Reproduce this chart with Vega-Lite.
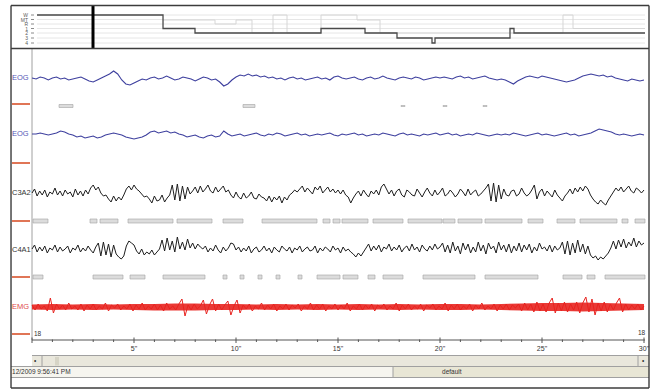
{
"$schema":"https://vega.github.io/schema/vega-lite/v6.json",
"width":651,"height":389,
"autosize":{"type":"fit","contains":"padding"},
"padding":0,
"background":"white",
"view":{"stroke":null},
"config":{"text":{"font":"Liberation Sans"}},
"datasets":{
"bands":[
{"t":0,"t2":30.245,"y":356,"y2":366.5,"part":"scroll"},
{"t":-1.029,"t2":17.696,"y":366.5,"y2":377.5,"part":"statusL"},
{"t":17.696,"t2":30.245,"y":366.5,"y2":377.5,"part":"statusR"},
{"t":1.127,"t2":1.324,"y":357,"y2":365.5,"part":"thumb"}
],
"frame":[
{"t":-1.029,"t2":30.245,"y":5.5,"y2":5.5},
{"t":-1.029,"t2":-1.029,"y":5.5,"y2":388},
{"t":30.245,"t2":30.245,"y":5.5,"y2":388},
{"t":-1.029,"t2":30.245,"y":388,"y2":388},
{"t":-1.029,"t2":30.245,"y":48.5,"y2":48.5}
],
"grays":[
{"t":0,"t2":0,"y":49,"y2":340},
{"t":0,"t2":30.245,"y":355.5,"y2":355.5},
{"t":-1.029,"t2":30.245,"y":366.5,"y2":366.5},
{"t":-1.029,"t2":30.245,"y":377.5,"y2":377.5},
{"t":17.696,"t2":17.696,"y":367,"y2":377},
{"t":0.49,"t2":0.49,"y":356,"y2":366},
{"t":29.706,"t2":29.706,"y":356,"y2":366}
],
"hgrid":[
{"t":0.245,"t2":30.049,"y":15,"y2":15},
{"t":0.245,"t2":30.049,"y":19.5,"y2":19.5},
{"t":0.245,"t2":30.049,"y":24,"y2":24},
{"t":0.245,"t2":30.049,"y":28.5,"y2":28.5},
{"t":0.245,"t2":30.049,"y":33,"y2":33},
{"t":0.245,"t2":30.049,"y":38,"y2":38},
{"t":0.245,"t2":30.049,"y":43,"y2":43}
],
"hticks":[
{"t":-0.049,"t2":0.098,"y":15,"y2":15},
{"t":-0.049,"t2":0.098,"y":19.5,"y2":19.5},
{"t":-0.049,"t2":0.098,"y":24,"y2":24},
{"t":-0.049,"t2":0.098,"y":28.5,"y2":28.5},
{"t":-0.049,"t2":0.098,"y":33,"y2":33},
{"t":-0.049,"t2":0.098,"y":38,"y2":38},
{"t":-0.049,"t2":0.098,"y":43,"y2":43}
],
"hfaint":[
{"t":6.422,"y":20},{"t":8.971,"y":24},{"t":10.0,"y":20},{"t":10.784,"y":33},{"t":11.814,"y":15},{"t":12.5,"y":33},{"t":14.167,"y":15},{"t":15.931,"y":20},{"t":17.059,"y":33},{"t":26.029,"y":15},{"t":26.52,"y":28.5},{"t":30.049,"y":28.5}
],
"hypno":[
{"t":0.245,"y":15},{"t":6.422,"y":28.5},{"t":7.99,"y":33},{"t":14.167,"y":28.5},{"t":16.324,"y":33},{"t":17.892,"y":38},{"t":19.608,"y":43},{"t":19.755,"y":38},{"t":23.431,"y":28.5},{"t":23.627,"y":33},{"t":30.049,"y":33}
],
"cursor":[{"t":2.99,"t2":2.99,"y":6,"y2":48}],
"events":[
{"t":1.324,"t2":2.01,"y":104.5,"y2":107.5},
{"t":10.343,"t2":10.931,"y":104.5,"y2":107.5},
{"t":18.088,"t2":18.284,"y":105.5,"y2":106.5},
{"t":20.147,"t2":20.343,"y":105.5,"y2":106.5},
{"t":22.108,"t2":22.304,"y":105.5,"y2":106.5},
{"t":0.049,"t2":0.784,"y":219,"y2":223},
{"t":2.843,"t2":3.186,"y":219,"y2":223},
{"t":3.333,"t2":4.216,"y":219,"y2":223},
{"t":4.706,"t2":6.912,"y":219,"y2":223},
{"t":7.108,"t2":8.824,"y":219,"y2":223},
{"t":9.363,"t2":10.343,"y":219,"y2":223},
{"t":11.275,"t2":13.971,"y":219,"y2":223},
{"t":14.265,"t2":14.608,"y":219,"y2":223},
{"t":14.755,"t2":15.098,"y":219,"y2":223},
{"t":15.196,"t2":16.471,"y":219,"y2":223},
{"t":16.716,"t2":18.186,"y":219,"y2":223},
{"t":18.431,"t2":20.098,"y":219,"y2":223},
{"t":20.147,"t2":20.735,"y":219,"y2":223},
{"t":20.882,"t2":22.059,"y":219,"y2":223},
{"t":22.206,"t2":24.02,"y":219,"y2":223},
{"t":24.314,"t2":25.049,"y":219,"y2":223},
{"t":25.735,"t2":26.618,"y":219,"y2":223},
{"t":26.863,"t2":28.676,"y":219,"y2":223},
{"t":28.922,"t2":29.216,"y":219,"y2":223},
{"t":29.559,"t2":30.049,"y":219,"y2":223},
{"t":0.049,"t2":0.539,"y":275,"y2":279},
{"t":2.99,"t2":4.461,"y":275,"y2":279},
{"t":4.804,"t2":5.539,"y":275,"y2":279},
{"t":6.422,"t2":8.48,"y":275,"y2":279},
{"t":9.363,"t2":9.559,"y":275,"y2":279},
{"t":10.196,"t2":10.392,"y":275,"y2":279},
{"t":11.078,"t2":11.275,"y":275,"y2":279},
{"t":11.961,"t2":12.157,"y":275,"y2":279},
{"t":13.039,"t2":13.235,"y":275,"y2":279},
{"t":13.971,"t2":15.098,"y":275,"y2":279},
{"t":15.245,"t2":15.98,"y":275,"y2":279},
{"t":16.471,"t2":16.814,"y":275,"y2":279},
{"t":17.206,"t2":18.186,"y":275,"y2":279},
{"t":19.167,"t2":21.716,"y":275,"y2":279},
{"t":22.206,"t2":24.804,"y":275,"y2":279},
{"t":26.029,"t2":26.961,"y":275,"y2":279},
{"t":27.206,"t2":27.598,"y":275,"y2":279},
{"t":28.088,"t2":30.049,"y":275,"y2":279}
],
"redmarks":[
{"t":-0.98,"t2":-0.098,"y":104,"y2":104},
{"t":-0.98,"t2":-0.098,"y":163,"y2":163},
{"t":-0.98,"t2":-0.098,"y":221,"y2":221},
{"t":-0.98,"t2":-0.098,"y":277,"y2":277},
{"t":-0.98,"t2":-0.098,"y":334,"y2":334}
],
"ticks":[
{"t":0,"t2":30.05,"y":340,"y2":340},
{"t":0,"t2":0,"y":337.5,"y2":343},{"t":1,"t2":1,"y":339.5,"y2":342},{"t":2,"t2":2,"y":339.5,"y2":342},{"t":3,"t2":3,"y":339.5,"y2":342},{"t":4,"t2":4,"y":339.5,"y2":342},
{"t":5,"t2":5,"y":337.5,"y2":343},{"t":6,"t2":6,"y":339.5,"y2":342},{"t":7,"t2":7,"y":339.5,"y2":342},{"t":8,"t2":8,"y":339.5,"y2":342},{"t":9,"t2":9,"y":339.5,"y2":342},
{"t":10,"t2":10,"y":337.5,"y2":343},{"t":11,"t2":11,"y":339.5,"y2":342},{"t":12,"t2":12,"y":339.5,"y2":342},{"t":13,"t2":13,"y":339.5,"y2":342},{"t":14,"t2":14,"y":339.5,"y2":342},
{"t":15,"t2":15,"y":337.5,"y2":343},{"t":16,"t2":16,"y":339.5,"y2":342},{"t":17,"t2":17,"y":339.5,"y2":342},{"t":18,"t2":18,"y":339.5,"y2":342},{"t":19,"t2":19,"y":339.5,"y2":342},
{"t":20,"t2":20,"y":337.5,"y2":343},{"t":21,"t2":21,"y":339.5,"y2":342},{"t":22,"t2":22,"y":339.5,"y2":342},{"t":23,"t2":23,"y":339.5,"y2":342},{"t":24,"t2":24,"y":339.5,"y2":342},
{"t":25,"t2":25,"y":337.5,"y2":343},{"t":26,"t2":26,"y":339.5,"y2":342},{"t":27,"t2":27,"y":339.5,"y2":342},{"t":28,"t2":28,"y":339.5,"y2":342},{"t":29,"t2":29,"y":339.5,"y2":342},
{"t":30,"t2":30,"y":337.5,"y2":343}
],
"timelabels":[
{"t":5,"y":348.5,"txt":"5\""},{"t":10,"y":348.5,"txt":"10\""},{"t":15,"y":348.5,"txt":"15\""},{"t":20,"y":348.5,"txt":"20\""},{"t":25,"y":348.5,"txt":"25\""},{"t":30,"y":348.5,"txt":"30\""}
],
"eoglabels":[
{"t":-0.98,"y":78,"txt":"EOG"},
{"t":-0.98,"y":134,"txt":"EOG"}
],
"eeglabels":[
{"t":-0.98,"y":193,"txt":"C3A2"},
{"t":-0.98,"y":250,"txt":"C4A1"}
],
"emglabels":[
{"t":-0.98,"y":307,"txt":"EMG"}
],
"misc":[
{"t":0.098,"y":333.5,"txt":"18"},
{"t":29.706,"y":332.5,"txt":"18"},
{"t":-0.98,"y":372,"txt":"12/2009 9:56:41 PM"},
{"t":20.1,"y":372,"txt":"default"},
{"t":0.1,"y":361,"txt":"•"},
{"t":29.9,"y":361,"txt":"•"}
],
"stages":[
{"t":-0.196,"y":15,"txt":"W"},{"t":-0.196,"y":19.5,"txt":"MT"},{"t":-0.196,"y":24,"txt":"R"},{"t":-0.196,"y":28.5,"txt":"1"},{"t":-0.196,"y":33,"txt":"2"},{"t":-0.196,"y":38,"txt":"3"},{"t":-0.196,"y":43,"txt":"4"}
],
"emgband":[
{"t":0,"y":304.5,"y2":309.5},{"t":1,"y":304,"y2":310},{"t":2,"y":304.5,"y2":309.5},{"t":3,"y":304,"y2":310},{"t":4,"y":304.5,"y2":309.5},{"t":5,"y":304,"y2":310},
{"t":6,"y":304,"y2":310.5},{"t":7,"y":303.5,"y2":310.5},{"t":8,"y":303.5,"y2":310.5},{"t":9,"y":304,"y2":310},{"t":10,"y":304,"y2":310},{"t":11,"y":304.5,"y2":309.5},
{"t":12,"y":304,"y2":310},{"t":13,"y":304.5,"y2":309.5},{"t":14,"y":304,"y2":310},{"t":15,"y":304.5,"y2":309.5},{"t":16,"y":304,"y2":310},{"t":17,"y":304.5,"y2":309.5},
{"t":18,"y":304,"y2":310},{"t":19,"y":304.5,"y2":309.5},{"t":20,"y":304,"y2":310},{"t":21,"y":304,"y2":310},{"t":22,"y":304.5,"y2":309.5},{"t":23,"y":304,"y2":310},
{"t":24,"y":303.5,"y2":310.5},{"t":25,"y":303,"y2":311},{"t":26,"y":303,"y2":311},{"t":27,"y":302.5,"y2":311.5},{"t":28,"y":303,"y2":311},{"t":29,"y":303.5,"y2":310.5},{"t":30,"y":304,"y2":310}
],
"eog1":[
{"t":0,"y":78},{"t":0.2,"y":79},{"t":0.4,"y":77},{"t":0.6,"y":78},{"t":0.8,"y":80},{"t":1,"y":78},{"t":1.2,"y":77},{"t":1.4,"y":79},{"t":1.6,"y":78},{"t":1.8,"y":80},
{"t":2,"y":79},{"t":2.2,"y":78},{"t":2.4,"y":77},{"t":2.6,"y":79},{"t":2.8,"y":81},{"t":3,"y":82},{"t":3.2,"y":80},{"t":3.4,"y":78},{"t":3.6,"y":76},{"t":3.8,"y":74},
{"t":4,"y":71},{"t":4.2,"y":74},{"t":4.4,"y":80},{"t":4.6,"y":84},{"t":4.8,"y":85},{"t":5,"y":83},{"t":5.2,"y":81},{"t":5.4,"y":79},{"t":5.6,"y":80},{"t":5.8,"y":78},
{"t":6,"y":77},{"t":6.2,"y":79},{"t":6.4,"y":78},{"t":6.6,"y":76},{"t":6.8,"y":78},{"t":7,"y":80},{"t":7.2,"y":79},{"t":7.4,"y":77},{"t":7.6,"y":78},{"t":7.8,"y":79},
{"t":8,"y":81},{"t":8.2,"y":79},{"t":8.4,"y":77},{"t":8.6,"y":78},{"t":8.8,"y":80},{"t":9,"y":79},{"t":9.2,"y":82},{"t":9.4,"y":86},{"t":9.6,"y":84},{"t":9.8,"y":80},
{"t":10,"y":77},{"t":10.2,"y":75},{"t":10.4,"y":76},{"t":10.6,"y":74},{"t":10.8,"y":76},{"t":11,"y":75},{"t":11.2,"y":77},{"t":11.4,"y":76},{"t":11.6,"y":78},{"t":11.8,"y":77},
{"t":12,"y":79},{"t":12.2,"y":78},{"t":12.4,"y":80},{"t":12.6,"y":78},{"t":12.8,"y":77},{"t":13,"y":79},{"t":13.2,"y":78},{"t":13.4,"y":80},{"t":13.6,"y":79},{"t":13.8,"y":78},
{"t":14,"y":77},{"t":14.2,"y":79},{"t":14.4,"y":78},{"t":14.6,"y":80},{"t":14.8,"y":77},{"t":15,"y":76},{"t":15.2,"y":78},{"t":15.4,"y":79},{"t":15.6,"y":78},{"t":15.8,"y":77},
{"t":16,"y":79},{"t":16.2,"y":80},{"t":16.4,"y":78},{"t":16.6,"y":77},{"t":16.8,"y":79},{"t":17,"y":78},{"t":17.2,"y":76},{"t":17.4,"y":78},{"t":17.6,"y":79},{"t":17.8,"y":80},
{"t":18,"y":78},{"t":18.2,"y":77},{"t":18.4,"y":78},{"t":18.6,"y":79},{"t":18.8,"y":77},{"t":19,"y":78},{"t":19.2,"y":80},{"t":19.4,"y":79},{"t":19.6,"y":78},{"t":19.8,"y":77},
{"t":20,"y":78},{"t":20.2,"y":77},{"t":20.4,"y":78},{"t":20.6,"y":79},{"t":20.8,"y":77},{"t":21,"y":76},{"t":21.2,"y":78},{"t":21.4,"y":77},{"t":21.6,"y":79},{"t":21.8,"y":78},
{"t":22,"y":77},{"t":22.2,"y":76},{"t":22.4,"y":78},{"t":22.6,"y":79},{"t":22.8,"y":80},{"t":23,"y":79},{"t":23.2,"y":80},{"t":23.4,"y":82},{"t":23.6,"y":84},{"t":23.8,"y":81},
{"t":24,"y":79},{"t":24.2,"y":77},{"t":24.4,"y":76},{"t":24.6,"y":77},{"t":24.8,"y":78},{"t":25,"y":76},{"t":25.2,"y":77},{"t":25.4,"y":78},{"t":25.6,"y":79},{"t":25.8,"y":80},
{"t":26,"y":81},{"t":26.2,"y":82},{"t":26.4,"y":81},{"t":26.6,"y":80},{"t":26.8,"y":78},{"t":27,"y":76},{"t":27.2,"y":75},{"t":27.4,"y":74},{"t":27.6,"y":75},{"t":27.8,"y":76},
{"t":28,"y":75},{"t":28.2,"y":77},{"t":28.4,"y":76},{"t":28.6,"y":78},{"t":28.8,"y":79},{"t":29,"y":80},{"t":29.2,"y":81},{"t":29.4,"y":79},{"t":29.6,"y":80},{"t":29.8,"y":81},
{"t":30,"y":80}
],
"eog2":[
{"t":0,"y":134},{"t":0.2,"y":134},{"t":0.4,"y":133},{"t":0.6,"y":134},{"t":0.8,"y":135},{"t":1,"y":134},{"t":1.2,"y":133},{"t":1.4,"y":131},{"t":1.6,"y":132},{"t":1.8,"y":134},
{"t":2,"y":135},{"t":2.2,"y":137},{"t":2.4,"y":136},{"t":2.6,"y":138},{"t":2.8,"y":137},{"t":3,"y":136},{"t":3.2,"y":138},{"t":3.4,"y":137},{"t":3.6,"y":135},{"t":3.8,"y":134},
{"t":4,"y":133},{"t":4.2,"y":134},{"t":4.4,"y":135},{"t":4.6,"y":137},{"t":4.8,"y":138},{"t":5,"y":139},{"t":5.2,"y":138},{"t":5.4,"y":137},{"t":5.6,"y":135},{"t":5.8,"y":132},
{"t":6,"y":131},{"t":6.2,"y":133},{"t":6.4,"y":132},{"t":6.6,"y":131},{"t":6.8,"y":133},{"t":7,"y":132},{"t":7.2,"y":134},{"t":7.4,"y":135},{"t":7.6,"y":137},{"t":7.8,"y":136},
{"t":8,"y":135},{"t":8.2,"y":137},{"t":8.4,"y":138},{"t":8.6,"y":136},{"t":8.8,"y":135},{"t":9,"y":137},{"t":9.2,"y":136},{"t":9.4,"y":131},{"t":9.6,"y":134},{"t":9.8,"y":136},
{"t":10,"y":135},{"t":10.2,"y":134},{"t":10.4,"y":136},{"t":10.6,"y":135},{"t":10.8,"y":134},{"t":11,"y":133},{"t":11.2,"y":135},{"t":11.4,"y":136},{"t":11.6,"y":134},{"t":11.8,"y":135},
{"t":12,"y":133},{"t":12.2,"y":134},{"t":12.4,"y":136},{"t":12.6,"y":135},{"t":12.8,"y":134},{"t":13,"y":133},{"t":13.2,"y":135},{"t":13.4,"y":134},{"t":13.6,"y":136},{"t":13.8,"y":135},
{"t":14,"y":134},{"t":14.2,"y":135},{"t":14.4,"y":134},{"t":14.6,"y":133},{"t":14.8,"y":135},{"t":15,"y":136},{"t":15.2,"y":134},{"t":15.4,"y":135},{"t":15.6,"y":134},{"t":15.8,"y":133},
{"t":16,"y":135},{"t":16.2,"y":134},{"t":16.4,"y":136},{"t":16.6,"y":135},{"t":16.8,"y":134},{"t":17,"y":135},{"t":17.2,"y":133},{"t":17.4,"y":134},{"t":17.6,"y":135},{"t":17.8,"y":136},
{"t":18,"y":134},{"t":18.2,"y":133},{"t":18.4,"y":135},{"t":18.6,"y":134},{"t":18.8,"y":135},{"t":19,"y":136},{"t":19.2,"y":134},{"t":19.4,"y":135},{"t":19.6,"y":134},{"t":19.8,"y":133},
{"t":20,"y":135},{"t":20.2,"y":134},{"t":20.4,"y":133},{"t":20.6,"y":135},{"t":20.8,"y":134},{"t":21,"y":136},{"t":21.2,"y":135},{"t":21.4,"y":134},{"t":21.6,"y":135},{"t":21.8,"y":133},
{"t":22,"y":134},{"t":22.2,"y":135},{"t":22.4,"y":136},{"t":22.6,"y":135},{"t":22.8,"y":134},{"t":23,"y":135},{"t":23.2,"y":134},{"t":23.4,"y":135},{"t":23.6,"y":133},{"t":23.8,"y":134},
{"t":24,"y":135},{"t":24.2,"y":136},{"t":24.4,"y":135},{"t":24.6,"y":134},{"t":24.8,"y":133},{"t":25,"y":135},{"t":25.2,"y":134},{"t":25.4,"y":135},{"t":25.6,"y":136},{"t":25.8,"y":135},
{"t":26,"y":134},{"t":26.2,"y":133},{"t":26.4,"y":135},{"t":26.6,"y":134},{"t":26.8,"y":136},{"t":27,"y":135},{"t":27.2,"y":134},{"t":27.4,"y":133},{"t":27.6,"y":131},{"t":27.8,"y":129},
{"t":28,"y":130},{"t":28.2,"y":131},{"t":28.4,"y":132},{"t":28.6,"y":134},{"t":28.8,"y":135},{"t":29,"y":134},{"t":29.2,"y":135},{"t":29.4,"y":136},{"t":29.6,"y":135},{"t":29.8,"y":134},
{"t":30,"y":135}
],
"c3a2":[
{"t":0,"y":193},{"t":0.125,"y":189},{"t":0.25,"y":196},{"t":0.375,"y":191},{"t":0.5,"y":195},{"t":0.625,"y":190},{"t":0.75,"y":197},{"t":0.875,"y":192},
{"t":1,"y":194},{"t":1.125,"y":188},{"t":1.25,"y":195},{"t":1.375,"y":191},{"t":1.5,"y":196},{"t":1.625,"y":190},{"t":1.75,"y":194},{"t":1.875,"y":192},
{"t":2,"y":197},{"t":2.125,"y":189},{"t":2.25,"y":195},{"t":2.375,"y":191},{"t":2.5,"y":196},{"t":2.625,"y":190},{"t":2.75,"y":194},{"t":2.875,"y":188},
{"t":3,"y":185},{"t":3.125,"y":190},{"t":3.25,"y":187},{"t":3.375,"y":193},{"t":3.5,"y":196},{"t":3.625,"y":195},{"t":3.75,"y":199},{"t":3.875,"y":202},
{"t":4,"y":196},{"t":4.125,"y":201},{"t":4.25,"y":197},{"t":4.375,"y":200},{"t":4.5,"y":195},{"t":4.625,"y":189},{"t":4.75,"y":186},{"t":4.875,"y":190},
{"t":5,"y":185},{"t":5.125,"y":189},{"t":5.25,"y":191},{"t":5.375,"y":194},{"t":5.5,"y":197},{"t":5.625,"y":196},{"t":5.75,"y":199},{"t":5.875,"y":203},
{"t":6,"y":196},{"t":6.125,"y":201},{"t":6.25,"y":200},{"t":6.375,"y":195},{"t":6.5,"y":202},{"t":6.625,"y":198},{"t":6.75,"y":195},{"t":6.875,"y":185},
{"t":7,"y":200},{"t":7.125,"y":184},{"t":7.25,"y":201},{"t":7.375,"y":186},{"t":7.5,"y":199},{"t":7.625,"y":187},{"t":7.75,"y":194},{"t":7.875,"y":191},
{"t":8,"y":187},{"t":8.125,"y":193},{"t":8.25,"y":186},{"t":8.375,"y":192},{"t":8.5,"y":189},{"t":8.625,"y":185},{"t":8.75,"y":191},{"t":8.875,"y":193},
{"t":9,"y":187},{"t":9.125,"y":192},{"t":9.25,"y":189},{"t":9.375,"y":186},{"t":9.5,"y":192},{"t":9.625,"y":190},{"t":9.75,"y":195},{"t":9.875,"y":198},
{"t":10,"y":192},{"t":10.125,"y":197},{"t":10.25,"y":199},{"t":10.375,"y":193},{"t":10.5,"y":198},{"t":10.625,"y":196},{"t":10.75,"y":192},{"t":10.875,"y":198},
{"t":11,"y":199},{"t":11.125,"y":194},{"t":11.25,"y":197},{"t":11.375,"y":198},{"t":11.5,"y":201},{"t":11.625,"y":196},{"t":11.75,"y":202},{"t":11.875,"y":197},
{"t":12,"y":200},{"t":12.125,"y":196},{"t":12.25,"y":203},{"t":12.375,"y":197},{"t":12.5,"y":200},{"t":12.625,"y":195},{"t":12.75,"y":193},{"t":12.875,"y":190},
{"t":13,"y":192},{"t":13.125,"y":189},{"t":13.25,"y":186},{"t":13.375,"y":192},{"t":13.5,"y":188},{"t":13.625,"y":191},{"t":13.75,"y":194},{"t":13.875,"y":187},
{"t":14,"y":190},{"t":14.125,"y":186},{"t":14.25,"y":193},{"t":14.375,"y":190},{"t":14.5,"y":187},{"t":14.625,"y":192},{"t":14.75,"y":189},{"t":14.875,"y":193},
{"t":15,"y":190},{"t":15.125,"y":194},{"t":15.25,"y":190},{"t":15.375,"y":195},{"t":15.5,"y":197},{"t":15.625,"y":203},{"t":15.75,"y":198},{"t":15.875,"y":194},
{"t":16,"y":191},{"t":16.125,"y":196},{"t":16.25,"y":190},{"t":16.375,"y":194},{"t":16.5,"y":197},{"t":16.625,"y":191},{"t":16.75,"y":194},{"t":16.875,"y":190},
{"t":17,"y":195},{"t":17.125,"y":187},{"t":17.25,"y":184},{"t":17.375,"y":189},{"t":17.5,"y":194},{"t":17.625,"y":190},{"t":17.75,"y":196},{"t":17.875,"y":191},
{"t":18,"y":189},{"t":18.125,"y":195},{"t":18.25,"y":197},{"t":18.375,"y":190},{"t":18.5,"y":192},{"t":18.625,"y":195},{"t":18.75,"y":196},{"t":18.875,"y":189},
{"t":19,"y":193},{"t":19.125,"y":197},{"t":19.25,"y":192},{"t":19.375,"y":188},{"t":19.5,"y":193},{"t":19.625,"y":196},{"t":19.75,"y":190},{"t":19.875,"y":195},
{"t":20,"y":192},{"t":20.125,"y":188},{"t":20.25,"y":196},{"t":20.375,"y":194},{"t":20.5,"y":190},{"t":20.625,"y":193},{"t":20.75,"y":197},{"t":20.875,"y":194},
{"t":21,"y":189},{"t":21.125,"y":192},{"t":21.25,"y":196},{"t":21.375,"y":189},{"t":21.5,"y":195},{"t":21.625,"y":192},{"t":21.75,"y":190},{"t":21.875,"y":196},
{"t":22,"y":194},{"t":22.125,"y":191},{"t":22.25,"y":188},{"t":22.375,"y":184},{"t":22.5,"y":201},{"t":22.625,"y":183},{"t":22.75,"y":202},{"t":22.875,"y":185},
{"t":23,"y":199},{"t":23.125,"y":189},{"t":23.25,"y":195},{"t":23.375,"y":196},{"t":23.5,"y":191},{"t":23.625,"y":190},{"t":23.75,"y":196},{"t":23.875,"y":194},
{"t":24,"y":188},{"t":24.125,"y":193},{"t":24.25,"y":196},{"t":24.375,"y":194},{"t":24.5,"y":190},{"t":24.625,"y":185},{"t":24.75,"y":199},{"t":24.875,"y":192},
{"t":25,"y":189},{"t":25.125,"y":196},{"t":25.25,"y":191},{"t":25.375,"y":194},{"t":25.5,"y":197},{"t":25.625,"y":190},{"t":25.75,"y":195},{"t":25.875,"y":198},
{"t":26,"y":201},{"t":26.125,"y":196},{"t":26.25,"y":193},{"t":26.375,"y":189},{"t":26.5,"y":194},{"t":26.625,"y":188},{"t":26.75,"y":192},{"t":26.875,"y":187},
{"t":27,"y":191},{"t":27.125,"y":186},{"t":27.25,"y":189},{"t":27.375,"y":195},{"t":27.5,"y":199},{"t":27.625,"y":202},{"t":27.75,"y":204},{"t":27.875,"y":200},
{"t":28,"y":203},{"t":28.125,"y":205},{"t":28.25,"y":200},{"t":28.375,"y":196},{"t":28.5,"y":192},{"t":28.625,"y":188},{"t":28.75,"y":191},{"t":28.875,"y":187},
{"t":29,"y":192},{"t":29.125,"y":189},{"t":29.25,"y":186},{"t":29.375,"y":191},{"t":29.5,"y":193},{"t":29.625,"y":188},{"t":29.75,"y":190},{"t":29.875,"y":193},
{"t":30,"y":190}
],
"c4a1":[
{"t":0,"y":249},{"t":0.125,"y":245},{"t":0.25,"y":252},{"t":0.375,"y":247},{"t":0.5,"y":251},{"t":0.625,"y":246},{"t":0.75,"y":253},{"t":0.875,"y":248},
{"t":1,"y":250},{"t":1.125,"y":245},{"t":1.25,"y":252},{"t":1.375,"y":247},{"t":1.5,"y":251},{"t":1.625,"y":249},{"t":1.75,"y":246},{"t":1.875,"y":253},
{"t":2,"y":248},{"t":2.125,"y":250},{"t":2.25,"y":245},{"t":2.375,"y":252},{"t":2.5,"y":248},{"t":2.625,"y":251},{"t":2.75,"y":246},{"t":2.875,"y":250},
{"t":3,"y":253},{"t":3.125,"y":247},{"t":3.25,"y":243},{"t":3.375,"y":256},{"t":3.5,"y":242},{"t":3.625,"y":255},{"t":3.75,"y":244},{"t":3.875,"y":257},
{"t":4,"y":245},{"t":4.125,"y":254},{"t":4.25,"y":257},{"t":4.375,"y":259},{"t":4.5,"y":256},{"t":4.625,"y":246},{"t":4.75,"y":241},{"t":4.875,"y":243},
{"t":5,"y":245},{"t":5.125,"y":251},{"t":5.25,"y":254},{"t":5.375,"y":249},{"t":5.5,"y":255},{"t":5.625,"y":252},{"t":5.75,"y":254},{"t":5.875,"y":250},
{"t":6,"y":255},{"t":6.125,"y":252},{"t":6.25,"y":249},{"t":6.375,"y":240},{"t":6.5,"y":251},{"t":6.625,"y":238},{"t":6.75,"y":250},{"t":6.875,"y":241},
{"t":7,"y":252},{"t":7.125,"y":237},{"t":7.25,"y":249},{"t":7.375,"y":242},{"t":7.5,"y":250},{"t":7.625,"y":239},{"t":7.75,"y":248},{"t":7.875,"y":243},
{"t":8,"y":249},{"t":8.125,"y":244},{"t":8.25,"y":247},{"t":8.375,"y":249},{"t":8.5,"y":246},{"t":8.625,"y":252},{"t":8.75,"y":248},{"t":8.875,"y":251},
{"t":9,"y":245},{"t":9.125,"y":250},{"t":9.25,"y":253},{"t":9.375,"y":247},{"t":9.5,"y":251},{"t":9.625,"y":248},{"t":9.75,"y":243},{"t":9.875,"y":244},
{"t":10,"y":250},{"t":10.125,"y":247},{"t":10.25,"y":252},{"t":10.375,"y":248},{"t":10.5,"y":251},{"t":10.625,"y":246},{"t":10.75,"y":253},{"t":10.875,"y":249},
{"t":11,"y":247},{"t":11.125,"y":252},{"t":11.25,"y":250},{"t":11.375,"y":246},{"t":11.5,"y":251},{"t":11.625,"y":248},{"t":11.75,"y":253},{"t":11.875,"y":247},
{"t":12,"y":250},{"t":12.125,"y":252},{"t":12.25,"y":246},{"t":12.375,"y":249},{"t":12.5,"y":251},{"t":12.625,"y":247},{"t":12.75,"y":253},{"t":12.875,"y":248},
{"t":13,"y":250},{"t":13.125,"y":246},{"t":13.25,"y":252},{"t":13.375,"y":249},{"t":13.5,"y":247},{"t":13.625,"y":251},{"t":13.75,"y":250},{"t":13.875,"y":246},
{"t":14,"y":253},{"t":14.125,"y":248},{"t":14.25,"y":251},{"t":14.375,"y":247},{"t":14.5,"y":249},{"t":14.625,"y":252},{"t":14.75,"y":246},{"t":14.875,"y":250},
{"t":15,"y":248},{"t":15.125,"y":253},{"t":15.25,"y":247},{"t":15.375,"y":251},{"t":15.5,"y":249},{"t":15.625,"y":252},{"t":15.75,"y":254},{"t":15.875,"y":257},
{"t":16,"y":253},{"t":16.125,"y":256},{"t":16.25,"y":252},{"t":16.375,"y":248},{"t":16.5,"y":244},{"t":16.625,"y":251},{"t":16.75,"y":246},{"t":16.875,"y":250},
{"t":17,"y":245},{"t":17.125,"y":252},{"t":17.25,"y":247},{"t":17.375,"y":249},{"t":17.5,"y":244},{"t":17.625,"y":251},{"t":17.75,"y":247},{"t":17.875,"y":250},
{"t":18,"y":245},{"t":18.125,"y":252},{"t":18.25,"y":248},{"t":18.375,"y":246},{"t":18.5,"y":251},{"t":18.625,"y":244},{"t":18.75,"y":250},{"t":18.875,"y":247},
{"t":19,"y":252},{"t":19.125,"y":245},{"t":19.25,"y":249},{"t":19.375,"y":251},{"t":19.5,"y":246},{"t":19.625,"y":250},{"t":19.75,"y":244},{"t":19.875,"y":249},
{"t":20,"y":247},{"t":20.125,"y":243},{"t":20.25,"y":252},{"t":20.375,"y":245},{"t":20.5,"y":253},{"t":20.625,"y":242},{"t":20.75,"y":251},{"t":20.875,"y":246},
{"t":21,"y":254},{"t":21.125,"y":243},{"t":21.25,"y":250},{"t":21.375,"y":244},{"t":21.5,"y":253},{"t":21.625,"y":247},{"t":21.75,"y":252},{"t":21.875,"y":242},
{"t":22,"y":251},{"t":22.125,"y":245},{"t":22.25,"y":254},{"t":22.375,"y":243},{"t":22.5,"y":249},{"t":22.625,"y":246},{"t":22.75,"y":253},{"t":22.875,"y":242},
{"t":23,"y":250},{"t":23.125,"y":245},{"t":23.25,"y":252},{"t":23.375,"y":244},{"t":23.5,"y":253},{"t":23.625,"y":246},{"t":23.75,"y":251},{"t":23.875,"y":243},
{"t":24,"y":252},{"t":24.125,"y":245},{"t":24.25,"y":250},{"t":24.375,"y":244},{"t":24.5,"y":253},{"t":24.625,"y":247},{"t":24.75,"y":251},{"t":24.875,"y":243},
{"t":25,"y":249},{"t":25.125,"y":247},{"t":25.25,"y":251},{"t":25.375,"y":245},{"t":25.5,"y":252},{"t":25.625,"y":246},{"t":25.75,"y":250},{"t":25.875,"y":248},
{"t":26,"y":242},{"t":26.125,"y":254},{"t":26.25,"y":241},{"t":26.375,"y":255},{"t":26.5,"y":243},{"t":26.625,"y":253},{"t":26.75,"y":240},{"t":26.875,"y":252},
{"t":27,"y":244},{"t":27.125,"y":254},{"t":27.25,"y":246},{"t":27.375,"y":255},{"t":27.5,"y":258},{"t":27.625,"y":256},{"t":27.75,"y":260},{"t":27.875,"y":257},
{"t":28,"y":259},{"t":28.125,"y":256},{"t":28.25,"y":253},{"t":28.375,"y":248},{"t":28.5,"y":241},{"t":28.625,"y":249},{"t":28.75,"y":240},{"t":28.875,"y":247},
{"t":29,"y":239},{"t":29.125,"y":248},{"t":29.25,"y":242},{"t":29.375,"y":246},{"t":29.5,"y":238},{"t":29.625,"y":247},{"t":29.75,"y":241},{"t":29.875,"y":245},
{"t":30,"y":243}
],
"emg":[
{"t":0,"y":305},{"t":0.15,"y":310},{"t":0.3,"y":304},{"t":0.45,"y":309},{"t":0.6,"y":306},{"t":0.75,"y":311},{"t":0.9,"y":298},{"t":1.05,"y":313},{"t":1.2,"y":304},{"t":1.35,"y":309},
{"t":1.5,"y":305},{"t":1.65,"y":310},{"t":1.8,"y":303},{"t":1.95,"y":309},{"t":2.1,"y":306},{"t":2.25,"y":310},{"t":2.4,"y":304},{"t":2.55,"y":311},{"t":2.7,"y":305},{"t":2.85,"y":309},
{"t":3,"y":304},{"t":3.15,"y":310},{"t":3.3,"y":306},{"t":3.45,"y":309},{"t":3.6,"y":303},{"t":3.75,"y":311},{"t":3.9,"y":305},{"t":4.05,"y":308},{"t":4.2,"y":304},{"t":4.35,"y":310},
{"t":4.5,"y":306},{"t":4.65,"y":309},{"t":4.8,"y":304},{"t":4.95,"y":311},{"t":5.1,"y":305},{"t":5.25,"y":309},{"t":5.4,"y":303},{"t":5.55,"y":310},{"t":5.7,"y":306},{"t":5.85,"y":309},
{"t":6,"y":304},{"t":6.15,"y":310},{"t":6.3,"y":305},{"t":6.45,"y":311},{"t":6.6,"y":303},{"t":6.75,"y":309},{"t":6.9,"y":306},{"t":7.05,"y":310},{"t":7.2,"y":304},{"t":7.35,"y":299},
{"t":7.5,"y":316},{"t":7.65,"y":305},{"t":7.8,"y":310},{"t":7.95,"y":304},{"t":8.1,"y":309},{"t":8.25,"y":306},{"t":8.4,"y":300},{"t":8.55,"y":314},{"t":8.7,"y":305},{"t":8.85,"y":299},
{"t":9,"y":311},{"t":9.15,"y":304},{"t":9.3,"y":310},{"t":9.45,"y":305},{"t":9.6,"y":301},{"t":9.75,"y":315},{"t":9.9,"y":306},{"t":10.05,"y":300},{"t":10.2,"y":313},{"t":10.35,"y":305},
{"t":10.5,"y":309},{"t":10.65,"y":304},{"t":10.8,"y":311},{"t":10.95,"y":306},{"t":11.1,"y":309},{"t":11.25,"y":303},{"t":11.4,"y":310},{"t":11.55,"y":305},{"t":11.7,"y":309},{"t":11.85,"y":304},
{"t":12,"y":311},{"t":12.15,"y":306},{"t":12.3,"y":309},{"t":12.45,"y":304},{"t":12.6,"y":310},{"t":12.75,"y":305},{"t":12.9,"y":308},{"t":13.05,"y":304},{"t":13.2,"y":311},{"t":13.35,"y":306},
{"t":13.5,"y":309},{"t":13.65,"y":303},{"t":13.8,"y":310},{"t":13.95,"y":305},{"t":14.1,"y":309},{"t":14.25,"y":304},{"t":14.4,"y":311},{"t":14.55,"y":306},{"t":14.7,"y":309},{"t":14.85,"y":304},
{"t":15,"y":310},{"t":15.15,"y":305},{"t":15.3,"y":309},{"t":15.45,"y":303},{"t":15.6,"y":311},{"t":15.75,"y":306},{"t":15.9,"y":309},{"t":16.05,"y":304},{"t":16.2,"y":310},{"t":16.35,"y":305},
{"t":16.5,"y":309},{"t":16.65,"y":304},{"t":16.8,"y":311},{"t":16.95,"y":305},{"t":17.1,"y":308},{"t":17.25,"y":304},{"t":17.4,"y":310},{"t":17.55,"y":306},{"t":17.7,"y":309},{"t":17.85,"y":303},
{"t":18,"y":311},{"t":18.15,"y":305},{"t":18.3,"y":309},{"t":18.45,"y":304},{"t":18.6,"y":310},{"t":18.75,"y":306},{"t":18.9,"y":309},{"t":19.05,"y":304},{"t":19.2,"y":311},{"t":19.35,"y":305},
{"t":19.5,"y":308},{"t":19.65,"y":304},{"t":19.8,"y":310},{"t":19.95,"y":306},{"t":20.1,"y":309},{"t":20.25,"y":303},{"t":20.4,"y":311},{"t":20.55,"y":305},{"t":20.7,"y":309},{"t":20.85,"y":304},
{"t":21,"y":310},{"t":21.15,"y":306},{"t":21.3,"y":309},{"t":21.45,"y":304},{"t":21.6,"y":311},{"t":21.75,"y":305},{"t":21.9,"y":309},{"t":22.05,"y":303},{"t":22.2,"y":310},{"t":22.35,"y":306},
{"t":22.5,"y":309},{"t":22.65,"y":304},{"t":22.8,"y":311},{"t":22.95,"y":305},{"t":23.1,"y":309},{"t":23.25,"y":304},{"t":23.4,"y":310},{"t":23.55,"y":305},{"t":23.7,"y":308},{"t":23.85,"y":304},
{"t":24,"y":311},{"t":24.15,"y":303},{"t":24.3,"y":310},{"t":24.45,"y":304},{"t":24.6,"y":312},{"t":24.75,"y":302},{"t":24.9,"y":311},{"t":25.05,"y":304},{"t":25.2,"y":312},{"t":25.35,"y":303},
{"t":25.5,"y":298},{"t":25.65,"y":313},{"t":25.8,"y":303},{"t":25.95,"y":311},{"t":26.1,"y":302},{"t":26.25,"y":312},{"t":26.4,"y":304},{"t":26.55,"y":310},{"t":26.7,"y":302},{"t":26.85,"y":313},
{"t":27,"y":303},{"t":27.15,"y":297},{"t":27.3,"y":312},{"t":27.45,"y":299},{"t":27.6,"y":315},{"t":27.75,"y":303},{"t":27.9,"y":311},{"t":28.05,"y":302},{"t":28.2,"y":312},{"t":28.35,"y":304},
{"t":28.5,"y":310},{"t":28.65,"y":303},{"t":28.8,"y":298},{"t":28.95,"y":312},{"t":29.1,"y":304},{"t":29.25,"y":310},{"t":29.4,"y":305},{"t":29.55,"y":309},{"t":29.7,"y":304},{"t":29.85,"y":310},
{"t":30,"y":306}
]
},
"encoding":{
"x":{"field":"t","type":"quantitative","scale":{"domain":[-1.569,30.343],"nice":false,"zero":false},"axis":null},
"y":{"field":"y","type":"quantitative","scale":{"domain":[0,389],"reverse":true,"nice":false,"zero":false},"axis":null}
},
"resolve":{"scale":{"color":"independent"}},
"layer":[
{"data":{"name":"bands"},"mark":{"type":"rect","clip":true},
 "encoding":{"x2":{"field":"t2"},"y2":{"field":"y2"},
  "color":{"field":"part","type":"nominal","scale":{"domain":["scroll","statusL","statusR","thumb"],"range":["#e9e7dc","#f6f5ef","#e8e6d5","#d6d4c6"]},"legend":null}}},
{"data":{"name":"hgrid"},"mark":{"type":"rule","color":"#e6e6e6","strokeWidth":1},
 "encoding":{"x2":{"field":"t2"},"y2":{"field":"y2"}}},
{"data":{"name":"hticks"},"mark":{"type":"rule","color":"#8a8a8a","strokeWidth":1},
 "encoding":{"x2":{"field":"t2"},"y2":{"field":"y2"}}},
{"data":{"name":"hfaint"},"mark":{"type":"line","interpolate":"step-after","color":"#d6d6d6","strokeWidth":1}},
{"data":{"name":"hypno"},"mark":{"type":"line","interpolate":"step-after","color":"#4a4a4a","strokeWidth":1.3}},
{"data":{"name":"cursor"},"mark":{"type":"rule","color":"#000000","strokeWidth":3},
 "encoding":{"x2":{"field":"t2"},"y2":{"field":"y2"}}},
{"data":{"name":"grays"},"mark":{"type":"rule","color":"#a0a0a0","strokeWidth":1},
 "encoding":{"x2":{"field":"t2"},"y2":{"field":"y2"}}},
{"data":{"name":"frame"},"mark":{"type":"rule","color":"#3c3c3c","strokeWidth":1.4},
 "encoding":{"x2":{"field":"t2"},"y2":{"field":"y2"}}},
{"data":{"name":"events"},"mark":{"type":"rect","fill":"#dcdcdc","stroke":"#a2a2a2","strokeWidth":0.6},
 "encoding":{"x2":{"field":"t2"},"y2":{"field":"y2"}}},
{"data":{"name":"redmarks"},"mark":{"type":"rule","color":"#d9532c","strokeWidth":1.6},
 "encoding":{"x2":{"field":"t2"},"y2":{"field":"y2"}}},
{"data":{"name":"eog1"},"mark":{"type":"line","color":"#3d3f9e","strokeWidth":1.1}},
{"data":{"name":"eog2"},"mark":{"type":"line","color":"#3d3f9e","strokeWidth":1.1}},
{"data":{"name":"c3a2"},"mark":{"type":"line","color":"#1e1e1e","strokeWidth":1}},
{"data":{"name":"c4a1"},"mark":{"type":"line","color":"#1e1e1e","strokeWidth":1}},
{"data":{"name":"emgband"},"mark":{"type":"area","color":"#e8231f","opacity":0.9},
 "encoding":{"y2":{"field":"y2"}}},
{"data":{"name":"emg"},"mark":{"type":"line","color":"#e8231f","strokeWidth":1}},
{"data":{"name":"ticks"},"mark":{"type":"rule","color":"#555555","strokeWidth":1},
 "encoding":{"x2":{"field":"t2"},"y2":{"field":"y2"}}},
{"data":{"name":"timelabels"},"mark":{"type":"text","fontSize":7,"fill":"#333333","align":"center","baseline":"middle","clip":true},
 "encoding":{"text":{"field":"txt"}}},
{"data":{"name":"eoglabels"},"mark":{"type":"text","fontSize":7.5,"fill":"#5656b6","align":"left","baseline":"middle"},
 "encoding":{"text":{"field":"txt"}}},
{"data":{"name":"eeglabels"},"mark":{"type":"text","fontSize":7.5,"fill":"#333333","align":"left","baseline":"middle"},
 "encoding":{"text":{"field":"txt"}}},
{"data":{"name":"emglabels"},"mark":{"type":"text","fontSize":7.5,"fill":"#e04a4a","align":"left","baseline":"middle"},
 "encoding":{"text":{"field":"txt"}}},
{"data":{"name":"misc"},"mark":{"type":"text","fontSize":6.5,"fill":"#333333","align":"left","baseline":"middle","clip":true},
 "encoding":{"text":{"field":"txt"}}},
{"data":{"name":"stages"},"mark":{"type":"text","fontSize":5,"fill":"#5a5a5a","align":"right","baseline":"middle"},
 "encoding":{"text":{"field":"txt"}}}
]
}
